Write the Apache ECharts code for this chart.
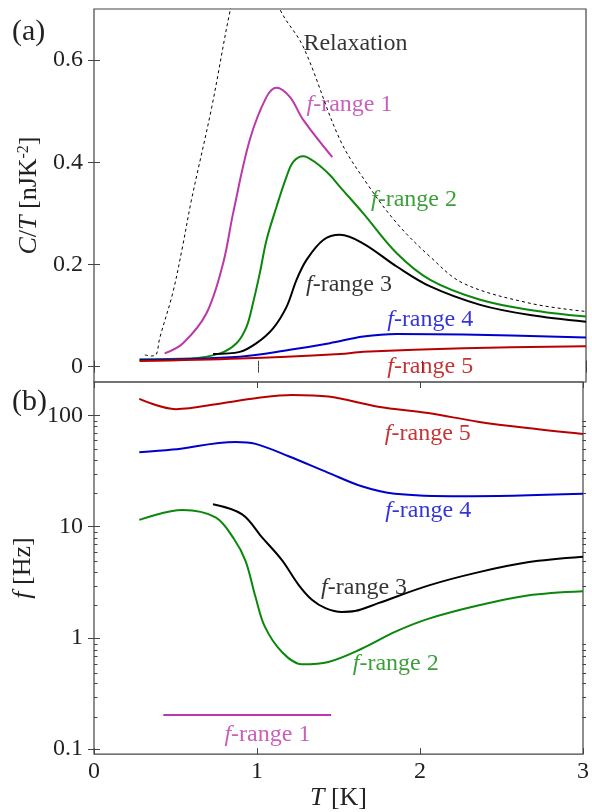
<!DOCTYPE html>
<html lang="en">
<head>
<meta charset="UTF-8">
<title>C/T and f ranges</title>
<script src="https://cdn.jsdelivr.net/npm/echarts@6/dist/echarts.min.js"></script>
<style>html,body{margin:0;padding:0;background:#fff;}</style>
</head>
<body>
<div id="main" style="width:592px;height:812px;"></div>
<script>
// panel (a): C/T [nJK^-2] vs T [K]
const relaxation = [[0.31,0.023],[0.35,0.021],[0.38,0.024],[0.40,0.055],[0.48,0.144],[0.54,0.235],[0.594,0.326],[0.718,0.508],[0.832,0.70],[0.95,0.86],[1.133,0.70],[1.276,0.626],[1.50,0.444],[1.663,0.359],[1.846,0.281],[2.05,0.215],[2.253,0.163],[2.66,0.124],[3.0,0.108]];
const range1C = [[0.431,0.026],[0.543,0.046],[0.685,0.104],[0.787,0.202],[0.848,0.30],[0.95,0.444],[1.052,0.528],[1.113,0.546],[1.194,0.528],[1.276,0.483],[1.453,0.41]];
const range2C = [[0.278,0.0145],[0.583,0.016],[0.767,0.026],[0.869,0.046],[0.93,0.078],[0.97,0.125],[1.011,0.183],[1.052,0.248],[1.113,0.313],[1.174,0.372],[1.215,0.401],[1.276,0.412],[1.357,0.398],[1.438,0.375],[1.50,0.352],[1.642,0.30],[1.846,0.222],[2.05,0.170],[2.355,0.131],[2.66,0.111],[3.0,0.098]];
const range3C = [[0.726,0.025],[0.889,0.029],[0.991,0.046],[1.092,0.075],[1.174,0.117],[1.235,0.17],[1.296,0.209],[1.398,0.248],[1.50,0.258],[1.642,0.241],[1.846,0.196],[2.05,0.157],[2.355,0.121],[2.66,0.101],[3.0,0.088]];
const range4C = [[0.278,0.013],[0.889,0.0196],[1.194,0.033],[1.438,0.046],[1.642,0.059],[1.846,0.064],[2.253,0.063],[3.0,0.057]];
const range5C = [[0.278,0.011],[0.889,0.016],[1.50,0.025],[1.642,0.029],[2.253,0.036],[3.0,0.040]];

// panel (b): f [Hz] vs T [K]
const range1F = [[0.425,0.202],[1.455,0.202]];
const range2F = [[0.278,11.5],[0.543,14.1],[0.746,12.1],[0.86,7.7],[0.93,4.9],[0.991,2.33],[1.048,1.26],[1.153,0.746],[1.276,0.578],[1.438,0.607],[1.642,0.798],[1.846,1.13],[2.05,1.48],[2.355,1.95],[2.66,2.40],[3.0,2.62]];
const range3F = [[0.730,15.9],[0.909,12.9],[1.031,8.0],[1.153,5.0],[1.255,3.0],[1.337,2.2],[1.42,1.85],[1.52,1.71],[1.60,1.74],[1.744,2.05],[2.05,2.95],[2.355,3.88],[2.66,4.78],[3.0,5.36]];
const range4F = [[0.278,46.7],[0.481,49.3],[0.869,57.8],[0.991,55.5],[1.194,43],[1.438,30.5],[1.642,23.1],[1.846,19.8],[2.253,18.8],[3.0,19.8]];
const range5F = [[0.278,141],[0.502,114],[0.787,129],[0.991,143],[1.215,153],[1.438,148],[1.744,120],[2.05,105],[2.355,88],[2.66,77],[3.0,68]];

// curve labels
const topLabels = ['Relaxation', '{i|f}-range 1', '{i|f}-range 2', '{i|f}-range 3', '{i|f}-range 4', '{i|f}-range 5'];
const topLabelAt = [[1.594,0.633],[1.558,0.512],[1.951,0.326],[1.555,0.160],[2.05,0.0914],[2.05,0.0]];
const bottomLabels = ['{i|f}-range 1', '{i|f}-range 2', '{i|f}-range 3', '{i|f}-range 4', '{i|f}-range 5'];
const bottomLabelAt = [[1.064,0.1337],[1.851,0.586],[1.657,2.85],[2.05,13.8],[2.048,68.5]];

// ticks
const cTicks = [0, 0.2, 0.4, 0.6];
const fTicks = [0.1, 1, 10, 100];
const fMinor = [0.2,0.3,0.4,0.5,0.6,0.7,0.8,0.9,2,3,4,5,6,7,8,9,20,30,40,50,60,70,80,90];

const serif = '"Liberation Serif", "DejaVu Serif", serif';
const cMag = '#bb38aa', cGreen = '#0b870b', cBlack = '#000000', cBlue = '#0000cc', cRed = '#b80000';
const axisCol = '#444';
const textCol = '#222';

const myChart = echarts.init(document.getElementById('main'));

function curve(data, color, xi, yi, dashed) {
    return {
        type: 'line', xAxisIndex: xi, yAxisIndex: yi, data: data,
        showSymbol: false, smooth: 0.35, clip: true, silent: true,
        lineStyle: dashed ? {color: color, width: 1, type: [3, 3]} : {color: color, width: 2}
    };
}

function labelSeries(pos, texts, colors, xi, yi) {
    return {
        type: 'scatter', xAxisIndex: xi, yAxisIndex: yi, symbolSize: 1, silent: true,
        itemStyle: {color: 'rgba(0,0,0,0)'},
        data: pos.map((p, i) => ({
            value: p,
            label: {color: colors[i], rich: {i: {fontStyle: 'italic', fontFamily: serif, fontSize: 24, color: colors[i]}}}
        })),
        label: {
            show: true, position: 'inside', fontFamily: serif, fontSize: 24,
            formatter: (p) => texts[p.dataIndex]
        }
    };
}

const tick = (len, vals) => ({inside: true, length: len, lineStyle: {color: axisCol, width: 1}, customValues: vals});
const xBase = {type: 'value', min: 0, max: 3, interval: 1, splitLine: {show: false}, axisLine: {show: false},
    axisTick: {inside: true, length: 6, lineStyle: {color: axisCol, width: 1}}};
const labelFont = {fontFamily: serif, fontSize: 24, color: textCol};
const nameFont = {fontFamily: serif, fontSize: 26, color: textCol};

const option = {
    animation: false,
    backgroundColor: '#fff',
    grid: [
        {left: 94, top: 9, width: 492, height: 373, show: true, borderColor: axisCol, borderWidth: 1.2},
        {left: 94, top: 382, width: 492, height: 374, show: true, borderColor: axisCol, borderWidth: 1.2},
        {left: 94, top: 382, width: 492, height: 374}
    ],
    xAxis: [
        Object.assign({}, xBase, {gridIndex: 0, position: 'bottom', axisLabel: {show: false}}),
        Object.assign({}, xBase, {gridIndex: 0, position: 'top', axisLabel: {show: false}}),
        Object.assign({}, xBase, {gridIndex: 1, position: 'bottom',
            axisLabel: Object.assign({margin: 6}, labelFont),
            name: '{i|T} [K]', nameLocation: 'middle', nameGap: 28,
            nameTextStyle: Object.assign({rich: {i: Object.assign({fontStyle: 'italic'}, nameFont)}}, nameFont)}),
        Object.assign({}, xBase, {gridIndex: 1, position: 'top', axisLabel: {show: false}}),
        Object.assign({}, xBase, {gridIndex: 2, show: false})
    ],
    yAxis: [
        {type: 'value', gridIndex: 0, position: 'left', min: -0.03, max: 0.7,
            splitLine: {show: false}, axisLine: {show: false},
            axisTick: tick(6, cTicks),
            axisLabel: Object.assign({customValues: cTicks, margin: 11}, labelFont),
            name: '{i|C}/{i|T} [nJK{sup|-2}]', nameLocation: 'middle', nameGap: 49,
            nameTextStyle: Object.assign({rich: {
                i: Object.assign({fontStyle: 'italic'}, nameFont),
                sup: {fontFamily: serif, fontSize: 16, color: textCol, verticalAlign: 'top'}
            }}, nameFont)},
        {type: 'value', gridIndex: 0, position: 'right', min: -0.03, max: 0.7,
            splitLine: {show: false}, axisLine: {show: false},
            axisTick: tick(6, cTicks), axisLabel: {show: false}},
        {type: 'log', gridIndex: 1, position: 'left', min: 0.09, max: 200,
            splitLine: {show: false}, axisLine: {show: false},
            axisTick: tick(6, fTicks),
            axisLabel: Object.assign({customValues: fTicks, margin: 11, formatter: (v) => String(v)}, labelFont),
            name: '{i|f} [Hz]', nameLocation: 'middle', nameGap: 54,
            nameTextStyle: Object.assign({rich: {i: Object.assign({fontStyle: 'italic'}, nameFont)}}, nameFont)},
        {type: 'log', gridIndex: 1, position: 'right', min: 0.09, max: 200,
            splitLine: {show: false}, axisLine: {show: false},
            axisTick: tick(6, fTicks), axisLabel: {show: false}},
        {type: 'log', gridIndex: 2, position: 'left', min: 0.09, max: 200,
            splitLine: {show: false}, axisLine: {show: false},
            axisTick: tick(3.5, fMinor), axisLabel: {show: false}},
        {type: 'log', gridIndex: 2, position: 'right', min: 0.09, max: 200,
            splitLine: {show: false}, axisLine: {show: false},
            axisTick: tick(3.5, fMinor), axisLabel: {show: false}}
    ],
    graphic: [
        {type: 'text', left: 12, top: 17, style: {text: '(a)', font: '30px ' + serif, fill: textCol}},
        {type: 'text', left: 12, top: 387, style: {text: '(b)', font: '30px ' + serif, fill: textCol}}
    ],
    series: [
        curve(relaxation, cBlack, 0, 0, true),
        curve(range1C, cMag, 0, 0),
        curve(range2C, cGreen, 0, 0),
        curve(range3C, cBlack, 0, 0),
        curve(range4C, cBlue, 0, 0),
        curve(range5C, cRed, 0, 0),
        labelSeries(topLabelAt, topLabels, [cBlack, cMag, cGreen, cBlack, cBlue, cRed], 0, 0),
        curve(range1F, cMag, 2, 2),
        curve(range2F, cGreen, 2, 2),
        curve(range3F, cBlack, 2, 2),
        curve(range4F, cBlue, 2, 2),
        curve(range5F, cRed, 2, 2),
        labelSeries(bottomLabelAt, bottomLabels, [cMag, cGreen, cBlack, cBlue, cRed], 2, 2)
    ]
};

myChart.setOption(option);
</script>
</body>
</html>
